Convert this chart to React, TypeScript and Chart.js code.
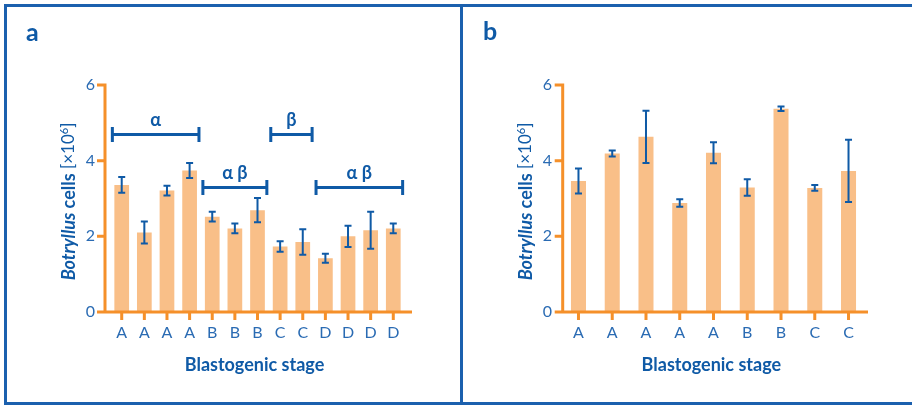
import React, { useEffect, useRef } from 'react';
import { Chart, registerables } from 'chart.js';

Chart.register(...registerables);

// ---------- data ----------
const STAGES_A = ['A', 'A', 'A', 'A', 'B', 'B', 'B', 'C', 'C', 'D', 'D', 'D', 'D'];
const CELLS_A = [3.36, 2.1, 3.21, 3.74, 2.52, 2.21, 2.69, 1.73, 1.85, 1.42, 2.0, 2.16, 2.21];
const ERR_A = [0.21, 0.29, 0.13, 0.2, 0.13, 0.13, 0.32, 0.14, 0.34, 0.12, 0.28, 0.49, 0.13];

const STAGES_B = ['A', 'A', 'A', 'A', 'A', 'B', 'B', 'C', 'C'];
const CELLS_B = [3.46, 4.19, 4.63, 2.88, 4.21, 3.29, 5.37, 3.28, 3.73];
const ERR_B = [0.33, 0.08, 0.69, 0.1, 0.28, 0.22, 0.06, 0.075, 0.82];

const Y_TICKS = [0, 2, 4, 6];

// significance groups in panel a (first bar index, last bar index, level, label)
const GROUP_LABELS = ['α', 'α β', 'β', 'α β'];
const GROUP_FROM = [0, 4, 7, 9];
const GROUP_TO = [3, 6, 8, 12];
const GROUP_LEVEL = [4.69, 3.29, 4.69, 3.29];

const X_TITLE = 'Blastogenic stage';

// ---------- styles ----------
const FONT = 'Lato, "Noto Sans", sans-serif';
const DARK_BLUE = '#0f5aa6';
const TICK_BLUE = '#2a6bb3';
const ORANGE = '#f5902a';
const BAR = '#f9bf88';
const FRAME = '#1b60ae';

type PanelCfg = {
  letter: string;
  labels: string[];
  values: number[];
  errors: number[];
  width: number;
  areaLeft: number;
  areaRight: number;
  axisX: number;
  axisRight: number;
  tickPad: number;
  barPct: number;
  yTitleX: number;
  letterX: number;
  letterY: number;
  groups: boolean;
};

const decorPlugin = {
  id: 'decor',
  afterDatasetsDraw(chart: any, _args: any, opts: any) {
    const cfg: PanelCfg = opts.cfg;
    if (!cfg) return;
    const ctx = chart.ctx;
    const ys = chart.scales.y;
    const meta = chart.getDatasetMeta(0);
    const y0 = ys.getPixelForValue(0);
    const yTop = ys.getPixelForValue(Y_TICKS[Y_TICKS.length - 1]);
    ctx.save();

    // error bars
    ctx.strokeStyle = DARK_BLUE;
    ctx.lineWidth = 2;
    meta.data.forEach((bar: any, i: number) => {
      const v = cfg.values[i];
      const e = cfg.errors[i];
      const yHi = ys.getPixelForValue(v + e);
      const yLo = ys.getPixelForValue(v - e);
      const x = bar.x;
      ctx.beginPath();
      ctx.moveTo(x, yHi);
      ctx.lineTo(x, yLo);
      ctx.moveTo(x - 3.5, yHi);
      ctx.lineTo(x + 3.5, yHi);
      ctx.moveTo(x - 3.5, yLo);
      ctx.lineTo(x + 3.5, yLo);
      ctx.stroke();
    });

    // axes
    ctx.strokeStyle = ORANGE;
    ctx.lineWidth = 3;
    ctx.lineCap = 'butt';
    ctx.beginPath();
    ctx.moveTo(cfg.axisX, yTop - 1.5);
    ctx.lineTo(cfg.axisX, y0);
    ctx.moveTo(cfg.axisX - 1.5, y0);
    ctx.lineTo(cfg.axisRight, y0);
    Y_TICKS.forEach((t) => {
      const py = ys.getPixelForValue(t);
      ctx.moveTo(cfg.axisX - 8, py);
      ctx.lineTo(cfg.axisX, py);
    });
    meta.data.forEach((bar: any) => {
      ctx.moveTo(bar.x, y0);
      ctx.lineTo(bar.x, y0 + 8);
    });
    ctx.stroke();

    // significance brackets
    if (cfg.groups) {
      ctx.strokeStyle = DARK_BLUE;
      ctx.fillStyle = DARK_BLUE;
      ctx.lineWidth = 3;
      ctx.font = `bold 18px ${FONT}`;
      ctx.textAlign = 'center';
      ctx.textBaseline = 'middle';
      GROUP_LABELS.forEach((lab, g) => {
        const b1 = meta.data[GROUP_FROM[g]];
        const b2 = meta.data[GROUP_TO[g]];
        const x1 = b1.x - b1.width / 2 - 2;
        const x2 = b2.x + b2.width / 2 + 2;
        const y = ys.getPixelForValue(GROUP_LEVEL[g]);
        ctx.beginPath();
        ctx.moveTo(x1, y);
        ctx.lineTo(x2, y);
        ctx.moveTo(x1, y - 7.5);
        ctx.lineTo(x1, y + 7.5);
        ctx.moveTo(x2, y - 7.5);
        ctx.lineTo(x2, y + 7.5);
        ctx.stroke();
        ctx.fillText(lab, (x1 + x2) / 2, y - 14.5);
      });
    }

    // x title
    ctx.fillStyle = DARK_BLUE;
    ctx.font = `bold 18px ${FONT}`;
    ctx.textAlign = 'center';
    ctx.textBaseline = 'middle';
    ctx.fillText(X_TITLE, (cfg.axisX - 8 + cfg.axisRight) / 2, 365);

    // y title (rotated, mixed styles)
    const parts = [
      { t: 'Botryllus', f: `italic bold 18px ${FONT}`, dy: 0 },
      { t: ' cells ', f: `bold 18px ${FONT}`, dy: 0 },
      { t: '[×10', f: `17px ${FONT}`, dy: 0 },
      { t: '6', f: `11px ${FONT}`, dy: -5 },
      { t: ']', f: `17px ${FONT}`, dy: 0 },
    ];
    let total = 0;
    const widths = parts.map((p) => {
      ctx.font = p.f;
      const w = ctx.measureText(p.t).width;
      total += w;
      return w;
    });
    ctx.translate(cfg.yTitleX, (yTop + y0) / 2 + 3);
    ctx.rotate(-Math.PI / 2);
    ctx.textAlign = 'left';
    let cx = -total / 2;
    parts.forEach((p, i) => {
      ctx.font = p.f;
      ctx.fillText(p.t, cx, p.dy);
      cx += widths[i];
    });
    ctx.setTransform(1, 0, 0, 1, 0, 0);

    // panel letter
    ctx.fillStyle = DARK_BLUE;
    ctx.font = `bold 25px ${FONT}`;
    ctx.textAlign = 'left';
    ctx.textBaseline = 'alphabetic';
    ctx.fillText(cfg.letter, cfg.letterX, cfg.letterY);
    ctx.restore();
  },
};

function Panel({ cfg, left }: { cfg: PanelCfg; left: number }) {
  const ref = useRef<HTMLCanvasElement | null>(null);
  useEffect(() => {
    if (!ref.current) return;
    const H = 406;
    const chart = new Chart(ref.current, {
      type: 'bar',
      data: {
        labels: cfg.labels,
        datasets: [
          {
            data: cfg.values,
            backgroundColor: BAR,
            borderWidth: 0,
            barPercentage: cfg.barPct,
            categoryPercentage: 1,
          },
        ],
      },
      options: {
        responsive: false,
        animation: false,
        devicePixelRatio: 1,
        layout: {
          padding: { left: 0, right: cfg.width - cfg.areaRight, top: 85, bottom: 0 },
        },
        plugins: {
          legend: { display: false },
          tooltip: { enabled: false },
          decor: { cfg },
        } as any,
        scales: {
          x: {
            type: 'category',
            grid: { display: false, drawTicks: false },
            border: { display: false },
            ticks: {
              color: TICK_BLUE,
              font: { family: FONT, size: 16 },
              padding: 11,
              maxRotation: 0,
              autoSkip: false,
            },
            afterFit: (s: any) => {
              s.height = H - 312;
            },
          },
          y: {
            min: 0,
            max: 6,
            grid: { display: false, drawTicks: false },
            border: { display: false },
            ticks: {
              stepSize: 2,
              color: TICK_BLUE,
              font: { family: FONT, size: 16 },
              padding: cfg.tickPad,
            },
            afterFit: (s: any) => {
              s.width = cfg.areaLeft;
            },
          },
        },
      },
      plugins: [decorPlugin],
    } as any);
    return () => chart.destroy();
  }, [cfg]);
  return (
    <canvas
      ref={ref}
      width={cfg.width}
      height={406}
      style={{ position: 'absolute', left, top: 0, width: cfg.width, height: 406, display: 'block' }}
    />
  );
}

const CFG_A: PanelCfg = {
  letter: 'a',
  labels: STAGES_A,
  values: CELLS_A,
  errors: ERR_A,
  width: 461,
  areaLeft: 110.4,
  areaRight: 404.6,
  axisX: 105,
  axisRight: 412,
  tickPad: 15.4,
  barPct: 0.65,
  yTitleX: 69,
  letterX: 26,
  letterY: 41,
  groups: true,
};

const CFG_B: PanelCfg = {
  letter: 'b',
  labels: STAGES_B,
  values: CELLS_B,
  errors: ERR_B,
  width: 451,
  areaLeft: 100.6,
  areaRight: 404.4,
  axisX: 101.7,
  axisRight: 407,
  tickPad: 9.6,
  barPct: 0.445,
  yTitleX: 65,
  letterX: 22,
  letterY: 40,
  groups: false,
};

export default function App() {
  const line = (s: React.CSSProperties) => (
    <div style={{ position: 'absolute', background: FRAME, ...s }} />
  );
  return (
    <div
      style={{
        position: 'absolute',
        left: 0,
        top: 0,
        width: 912,
        height: 406,
        background: '#ffffff',
        overflow: 'hidden',
      }}
    >
      <Panel cfg={CFG_A} left={0} />
      <Panel cfg={CFG_B} left={461} />
      {line({ left: 4, top: 4, width: 908, height: 3 })}
      {line({ left: 4, top: 4, width: 3, height: 401 })}
      {line({ left: 4, top: 402, width: 908, height: 3 })}
      {line({ left: 460, top: 4, width: 3, height: 401 })}
    </div>
  );
}
